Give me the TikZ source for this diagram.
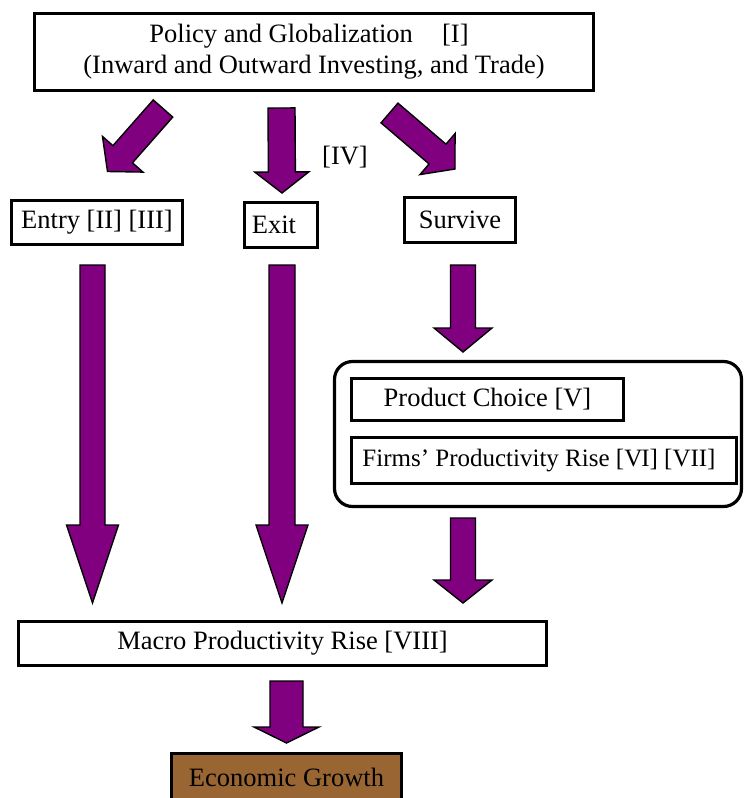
\documentclass[tikz,border=0pt]{standalone}
\usepackage{fontspec}
\setmainfont{Liberation Serif}
\usetikzlibrary{calc}
\definecolor{arrowpurple}{RGB}{128,0,128}
\definecolor{growthbrown}{RGB}{153,102,51}
\tikzset{
  box/.style={draw=black, line width=3.4pt, fill=white, inner sep=0pt,
    font=\fontsize{26.5}{31}\selectfont},
  group/.style={draw=black, line width=3.2pt, rounded corners=18pt, inner sep=0pt},
  arrowfill/.style={draw=black, line width=1.4pt, fill=arrowpurple, line join=miter},
  lbl/.style={inner sep=0pt, font=\fontsize{26.5}{31}\selectfont}
}
% block arrow: from #1 to #2, half shaft width #3, half head width #4, head length #5
\newcommand\blockarrow[5]{%
  \coordinate (hb) at ($(#2)!#5!(#1)$);
  \draw[arrowfill] ($(#1)!#3!90:(#2)$) -- ($(hb)!#3!90:(#2)$) -- ($(hb)!#4!90:(#2)$)
    -- (#2) -- ($(hb)!#4!-90:(#2)$) -- ($(hb)!#3!-90:(#2)$) -- ($(#1)!#3!-90:(#2)$) -- cycle;}
\begin{document}
\begin{tikzpicture}[x=1pt,y=-1pt]
\useasboundingbox (0,0) rectangle (744,798);

% boxes
\node[box, minimum width=559pt, minimum height=77pt, align=center] (top) at (314,52)
  {Policy and Globalization\hspace{1.1em}[I]\hspace*{10pt}\\(Inward and Outward Investing, and Trade)};
\node[box, minimum width=171pt, minimum height=44pt] (entry) at (97,222.5) {Entry [II] [III]};
\node[box, minimum width=73pt, minimum height=45pt] (exit) at (281,225) {Exit\hspace*{14pt}};
\node[box, minimum width=111pt, minimum height=45pt] (survive) at (460,220) {Survive};
\node[group, minimum width=407pt, minimum height=145pt] (grp) at (538,434) {};
\node[box, minimum width=272pt, minimum height=42pt] (product) at (487.5,399.5) {Product Choice [V]};
\node[box, minimum width=385pt, minimum height=46pt, font=\fontsize{25}{30}\selectfont] (firms) at (544,460.5) {Firms' Productivity Rise [V\kern-1ptI] [VII]\hspace*{10pt}};
\node[box, minimum width=528pt, minimum height=44pt] (macro) at (282.5,643.5) {Macro Productivity Rise [VIII]};
\node[box, fill=growthbrown, minimum width=230pt, minimum height=47pt] (growth) at (286.5,777) {Economic Growth};
\node[lbl] (iv) at (345,157) {[IV]};

% arrow end points
\coordinate (a1s) at (163,108.5);  \coordinate (a1e) at (107.5,171.5);
\coordinate (a2s) at (281.5,108);  \coordinate (a2e) at (282,193);
\coordinate (a3s) at (389.5,113);  \coordinate (a3e) at (455,169);
\coordinate (a4s) at (92.5,265);   \coordinate (a4e) at (92.5,603);
\coordinate (a5s) at (282,265);    \coordinate (a5e) at (282,603);
\coordinate (a6s) at (463,265);    \coordinate (a6e) at (463,352);
\coordinate (a7s) at (463,518);    \coordinate (a7e) at (463,603);
\coordinate (a8s) at (286.5,681);  \coordinate (a8e) at (286.5,743);

\blockarrow{a1s}{a1e}{13pt}{27pt}{23pt}
\blockarrow{a2s}{a2e}{13.5pt}{27pt}{21pt}
\blockarrow{a3s}{a3e}{13pt}{27pt}{23pt}
\blockarrow{a4s}{a4e}{12.5pt}{26pt}{78pt}
\blockarrow{a5s}{a5e}{13pt}{26pt}{78pt}
\blockarrow{a6s}{a6e}{12.5pt}{29pt}{24pt}
\blockarrow{a7s}{a7e}{12.5pt}{29pt}{23pt}
\blockarrow{a8s}{a8e}{16.5pt}{32.5pt}{16pt}
\end{tikzpicture}
\end{document}
